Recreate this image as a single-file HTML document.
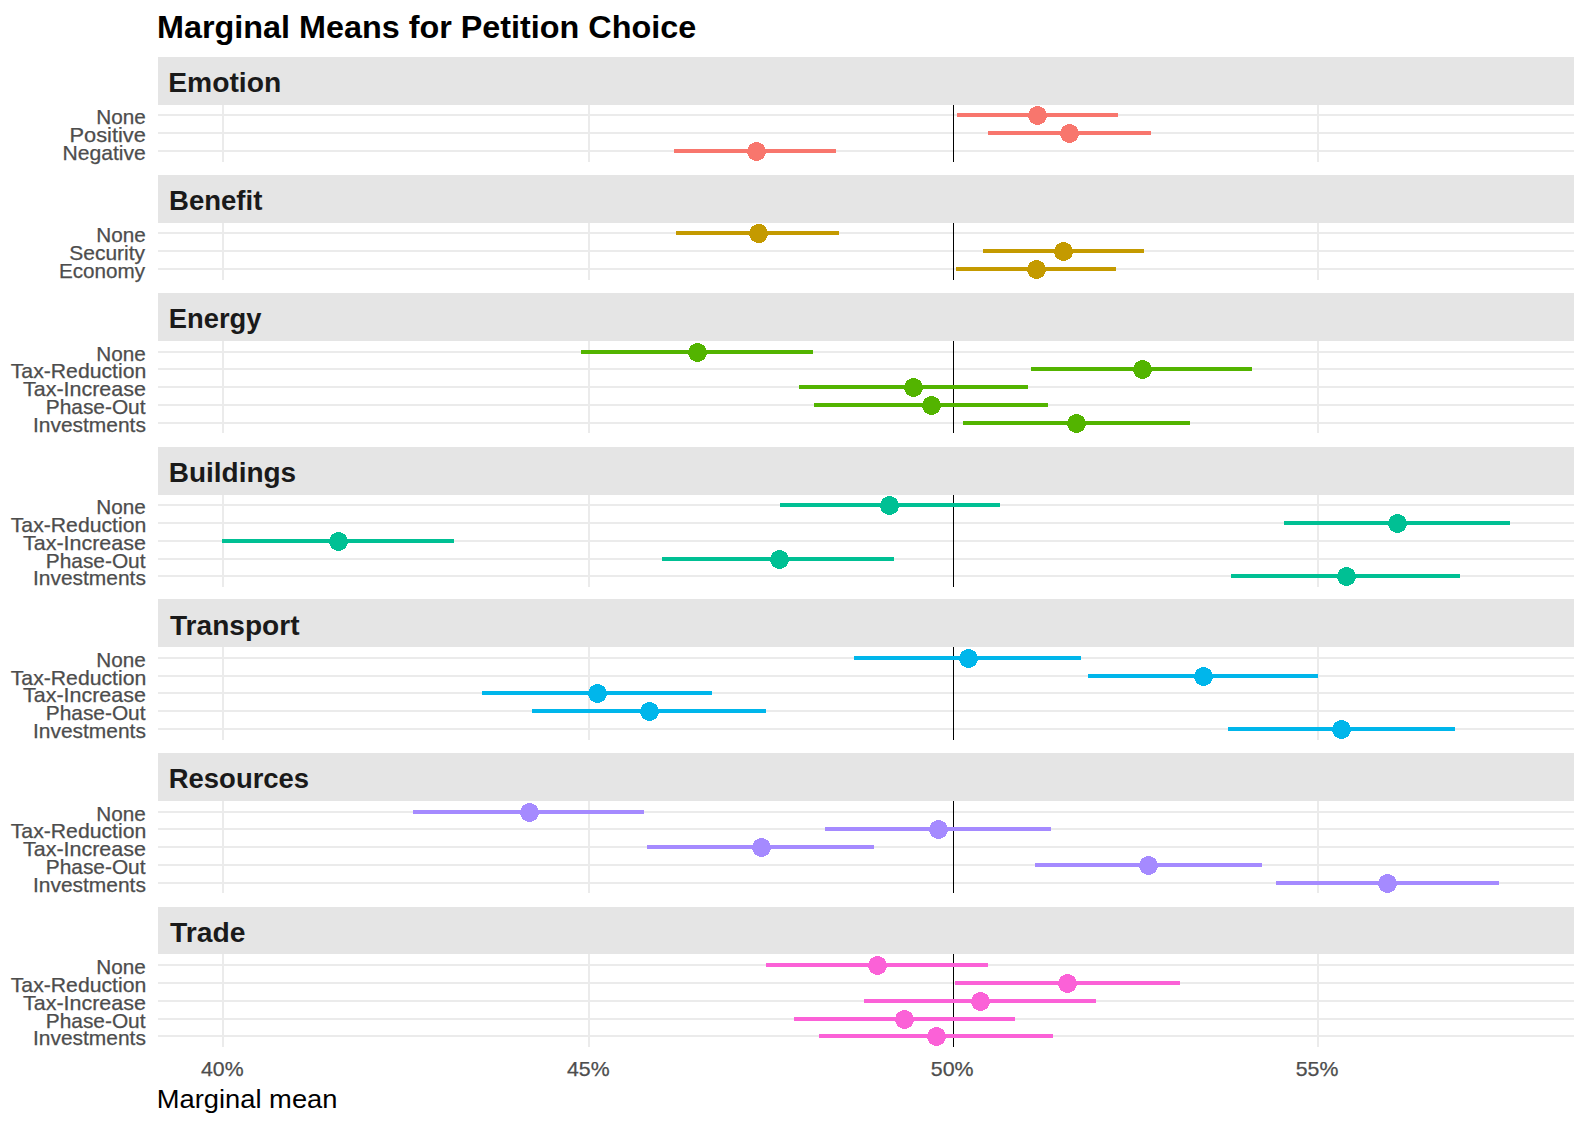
<!DOCTYPE html>
<html lang="en">
<head>
<meta charset="utf-8">
<title>Marginal Means for Petition Choice</title>
<style>
html,body{margin:0;padding:0;background:#fff;}
svg{display:block;}
text{font-family:"Liberation Sans",Arial,Helvetica,sans-serif;}
.t{font-size:32px;font-weight:bold;fill:#000;}
.s{font-size:28px;font-weight:bold;fill:#1a1a1a;}
.y{font-size:20.8px;fill:#4d4d4d;stroke:#4d4d4d;stroke-width:0.25px;}
.x{font-size:20.8px;fill:#4d4d4d;stroke:#4d4d4d;stroke-width:0.25px;}
.xt{font-size:26.2px;fill:#000;}
.g{fill:#ebebeb;}
.st{fill:#e5e5e5;}
.v{fill:#000;}
</style>
</head>
<body>
<svg width="1588" height="1127" viewBox="0 0 1588 1127">
<rect x="0" y="0" width="1588" height="1127" fill="#ffffff"/>
<text class="t" x="157.00" y="38.0" textLength="539.19" lengthAdjust="spacingAndGlyphs">Marginal Means for Petition Choice</text>
<g shape-rendering="crispEdges">
<rect class="st" x="158" y="57" width="1416" height="48"/>
<rect class="g" x="158" y="114" width="1416" height="2"/>
<rect class="g" x="158" y="132" width="1416" height="2"/>
<rect class="g" x="158" y="150" width="1416" height="2"/>
<rect class="g" x="222" y="105" width="2" height="57"/>
<rect class="g" x="588" y="105" width="2" height="57"/>
<rect class="g" x="1317" y="105" width="2" height="57"/>
<rect class="v" x="953" y="105" width="1" height="57"/>
<rect x="957" y="113" width="161" height="4" fill="#F8766D"/><circle cx="1037.5" cy="115.5" r="9.5" fill="#F8766D"/>
<rect x="988" y="131" width="163" height="4" fill="#F8766D"/><circle cx="1069.5" cy="133.5" r="9.5" fill="#F8766D"/>
<rect x="674" y="149" width="162" height="4" fill="#F8766D"/><circle cx="756.5" cy="151.5" r="9.5" fill="#F8766D"/>
</g>
<text class="s" x="168.25" y="92.0" textLength="112.98" lengthAdjust="spacingAndGlyphs">Emotion</text>
<text class="y" x="96.25" y="123.6" textLength="49.52" lengthAdjust="spacingAndGlyphs">None</text>
<text class="y" x="69.50" y="141.6" textLength="76.30" lengthAdjust="spacingAndGlyphs">Positive</text>
<text class="y" x="62.50" y="159.6" textLength="83.38" lengthAdjust="spacingAndGlyphs">Negative</text>
<g shape-rendering="crispEdges">
<rect class="st" x="158" y="175" width="1416" height="48"/>
<rect class="g" x="158" y="232" width="1416" height="2"/>
<rect class="g" x="158" y="250" width="1416" height="2"/>
<rect class="g" x="158" y="268" width="1416" height="2"/>
<rect class="g" x="222" y="223" width="2" height="57"/>
<rect class="g" x="588" y="223" width="2" height="57"/>
<rect class="g" x="1317" y="223" width="2" height="57"/>
<rect class="v" x="953" y="223" width="1" height="57"/>
<rect x="676" y="231" width="163" height="4" fill="#C49A00"/><circle cx="758.5" cy="233.5" r="9.5" fill="#C49A00"/>
<rect x="983" y="249" width="161" height="4" fill="#C49A00"/><circle cx="1063.5" cy="251.5" r="9.5" fill="#C49A00"/>
<rect x="956" y="267" width="160" height="4" fill="#C49A00"/><circle cx="1036.5" cy="269.5" r="9.5" fill="#C49A00"/>
</g>
<text class="s" x="169.00" y="210.0" textLength="93.32" lengthAdjust="spacingAndGlyphs">Benefit</text>
<text class="y" x="96.25" y="241.6" textLength="49.52" lengthAdjust="spacingAndGlyphs">None</text>
<text class="y" x="69.25" y="259.6" textLength="75.78" lengthAdjust="spacingAndGlyphs">Security</text>
<text class="y" x="59.00" y="278.3" textLength="86.09" lengthAdjust="spacingAndGlyphs">Economy</text>
<g shape-rendering="crispEdges">
<rect class="st" x="158" y="293" width="1416" height="48"/>
<rect class="g" x="158" y="351" width="1416" height="2"/>
<rect class="g" x="158" y="368" width="1416" height="2"/>
<rect class="g" x="158" y="386" width="1416" height="2"/>
<rect class="g" x="158" y="404" width="1416" height="2"/>
<rect class="g" x="158" y="422" width="1416" height="2"/>
<rect class="g" x="222" y="341" width="2" height="92"/>
<rect class="g" x="588" y="341" width="2" height="92"/>
<rect class="g" x="1317" y="341" width="2" height="92"/>
<rect class="v" x="953" y="341" width="1" height="92"/>
<rect x="581" y="350" width="232" height="4" fill="#53B400"/><circle cx="697.5" cy="352.5" r="9.5" fill="#53B400"/>
<rect x="1031" y="367" width="221" height="4" fill="#53B400"/><circle cx="1142.5" cy="369.5" r="9.5" fill="#53B400"/>
<rect x="799" y="385" width="229" height="4" fill="#53B400"/><circle cx="913.5" cy="387.5" r="9.5" fill="#53B400"/>
<rect x="814" y="403" width="234" height="4" fill="#53B400"/><circle cx="931.5" cy="405.5" r="9.5" fill="#53B400"/>
<rect x="963" y="421" width="227" height="4" fill="#53B400"/><circle cx="1076.5" cy="423.5" r="9.5" fill="#53B400"/>
</g>
<text class="s" x="168.75" y="328.0" textLength="92.68" lengthAdjust="spacingAndGlyphs">Energy</text>
<text class="y" x="96.25" y="360.6" textLength="49.52" lengthAdjust="spacingAndGlyphs">None</text>
<text class="y" x="10.75" y="377.6" textLength="135.47" lengthAdjust="spacingAndGlyphs">Tax-Reduction</text>
<text class="y" x="23.00" y="395.6" textLength="122.90" lengthAdjust="spacingAndGlyphs">Tax-Increase</text>
<text class="y" x="45.75" y="413.6" textLength="99.78" lengthAdjust="spacingAndGlyphs">Phase-Out</text>
<text class="y" x="33.00" y="431.6" textLength="112.85" lengthAdjust="spacingAndGlyphs">Investments</text>
<g shape-rendering="crispEdges">
<rect class="st" x="158" y="447" width="1416" height="48"/>
<rect class="g" x="158" y="504" width="1416" height="2"/>
<rect class="g" x="158" y="522" width="1416" height="2"/>
<rect class="g" x="158" y="540" width="1416" height="2"/>
<rect class="g" x="158" y="558" width="1416" height="2"/>
<rect class="g" x="158" y="575" width="1416" height="2"/>
<rect class="g" x="222" y="495" width="2" height="92"/>
<rect class="g" x="588" y="495" width="2" height="92"/>
<rect class="g" x="1317" y="495" width="2" height="92"/>
<rect class="v" x="953" y="495" width="1" height="92"/>
<rect x="780" y="503" width="220" height="4" fill="#00C094"/><circle cx="889.5" cy="505.5" r="9.5" fill="#00C094"/>
<rect x="1284" y="521" width="226" height="4" fill="#00C094"/><circle cx="1397.5" cy="523.5" r="9.5" fill="#00C094"/>
<rect x="222" y="539" width="232" height="4" fill="#00C094"/><circle cx="338.5" cy="541.5" r="9.5" fill="#00C094"/>
<rect x="662" y="557" width="232" height="4" fill="#00C094"/><circle cx="779.5" cy="559.5" r="9.5" fill="#00C094"/>
<rect x="1231" y="574" width="229" height="4" fill="#00C094"/><circle cx="1346.5" cy="576.5" r="9.5" fill="#00C094"/>
</g>
<text class="s" x="168.75" y="482.0" textLength="127.39" lengthAdjust="spacingAndGlyphs">Buildings</text>
<text class="y" x="96.25" y="513.6" textLength="49.52" lengthAdjust="spacingAndGlyphs">None</text>
<text class="y" x="10.75" y="531.6" textLength="135.47" lengthAdjust="spacingAndGlyphs">Tax-Reduction</text>
<text class="y" x="23.00" y="549.6" textLength="122.90" lengthAdjust="spacingAndGlyphs">Tax-Increase</text>
<text class="y" x="45.75" y="567.6" textLength="99.78" lengthAdjust="spacingAndGlyphs">Phase-Out</text>
<text class="y" x="33.00" y="584.6" textLength="112.85" lengthAdjust="spacingAndGlyphs">Investments</text>
<g shape-rendering="crispEdges">
<rect class="st" x="158" y="599" width="1416" height="48"/>
<rect class="g" x="158" y="657" width="1416" height="2"/>
<rect class="g" x="158" y="675" width="1416" height="2"/>
<rect class="g" x="158" y="692" width="1416" height="2"/>
<rect class="g" x="158" y="710" width="1416" height="2"/>
<rect class="g" x="158" y="728" width="1416" height="2"/>
<rect class="g" x="222" y="647" width="2" height="93"/>
<rect class="g" x="588" y="647" width="2" height="93"/>
<rect class="g" x="1317" y="647" width="2" height="93"/>
<rect class="v" x="953" y="647" width="1" height="93"/>
<rect x="854" y="656" width="227" height="4" fill="#00B6EB"/><circle cx="968.5" cy="658.5" r="9.5" fill="#00B6EB"/>
<rect x="1088" y="674" width="230" height="4" fill="#00B6EB"/><circle cx="1203.5" cy="676.5" r="9.5" fill="#00B6EB"/>
<rect x="482" y="691" width="230" height="4" fill="#00B6EB"/><circle cx="597.5" cy="693.5" r="9.5" fill="#00B6EB"/>
<rect x="532" y="709" width="234" height="4" fill="#00B6EB"/><circle cx="649.5" cy="711.5" r="9.5" fill="#00B6EB"/>
<rect x="1228" y="727" width="227" height="4" fill="#00B6EB"/><circle cx="1341.5" cy="729.5" r="9.5" fill="#00B6EB"/>
</g>
<text class="s" x="170.00" y="635.0" textLength="129.54" lengthAdjust="spacingAndGlyphs">Transport</text>
<text class="y" x="96.25" y="666.6" textLength="49.52" lengthAdjust="spacingAndGlyphs">None</text>
<text class="y" x="10.75" y="684.6" textLength="135.47" lengthAdjust="spacingAndGlyphs">Tax-Reduction</text>
<text class="y" x="23.00" y="701.6" textLength="122.90" lengthAdjust="spacingAndGlyphs">Tax-Increase</text>
<text class="y" x="45.75" y="719.6" textLength="99.78" lengthAdjust="spacingAndGlyphs">Phase-Out</text>
<text class="y" x="33.00" y="737.6" textLength="112.85" lengthAdjust="spacingAndGlyphs">Investments</text>
<g shape-rendering="crispEdges">
<rect class="st" x="158" y="753" width="1416" height="48"/>
<rect class="g" x="158" y="811" width="1416" height="2"/>
<rect class="g" x="158" y="828" width="1416" height="2"/>
<rect class="g" x="158" y="846" width="1416" height="2"/>
<rect class="g" x="158" y="864" width="1416" height="2"/>
<rect class="g" x="158" y="882" width="1416" height="2"/>
<rect class="g" x="222" y="801" width="2" height="92"/>
<rect class="g" x="588" y="801" width="2" height="92"/>
<rect class="g" x="1317" y="801" width="2" height="92"/>
<rect class="v" x="953" y="801" width="1" height="92"/>
<rect x="413" y="810" width="231" height="4" fill="#A58AFF"/><circle cx="529.5" cy="812.5" r="9.5" fill="#A58AFF"/>
<rect x="825" y="827" width="226" height="4" fill="#A58AFF"/><circle cx="938.5" cy="829.5" r="9.5" fill="#A58AFF"/>
<rect x="647" y="845" width="227" height="4" fill="#A58AFF"/><circle cx="761.5" cy="847.5" r="9.5" fill="#A58AFF"/>
<rect x="1035" y="863" width="227" height="4" fill="#A58AFF"/><circle cx="1148.5" cy="865.5" r="9.5" fill="#A58AFF"/>
<rect x="1276" y="881" width="223" height="4" fill="#A58AFF"/><circle cx="1387.5" cy="883.5" r="9.5" fill="#A58AFF"/>
</g>
<text class="s" x="168.75" y="788.0" textLength="140.39" lengthAdjust="spacingAndGlyphs">Resources</text>
<text class="y" x="96.25" y="820.6" textLength="49.52" lengthAdjust="spacingAndGlyphs">None</text>
<text class="y" x="10.75" y="837.6" textLength="135.47" lengthAdjust="spacingAndGlyphs">Tax-Reduction</text>
<text class="y" x="23.00" y="855.6" textLength="122.90" lengthAdjust="spacingAndGlyphs">Tax-Increase</text>
<text class="y" x="45.75" y="873.6" textLength="99.78" lengthAdjust="spacingAndGlyphs">Phase-Out</text>
<text class="y" x="33.00" y="891.6" textLength="112.85" lengthAdjust="spacingAndGlyphs">Investments</text>
<g shape-rendering="crispEdges">
<rect class="st" x="158" y="907" width="1416" height="47"/>
<rect class="g" x="158" y="964" width="1416" height="2"/>
<rect class="g" x="158" y="982" width="1416" height="2"/>
<rect class="g" x="158" y="1000" width="1416" height="2"/>
<rect class="g" x="158" y="1018" width="1416" height="2"/>
<rect class="g" x="158" y="1035" width="1416" height="2"/>
<rect class="g" x="222" y="954" width="2" height="93"/>
<rect class="g" x="588" y="954" width="2" height="93"/>
<rect class="g" x="1317" y="954" width="2" height="93"/>
<rect class="v" x="953" y="954" width="1" height="93"/>
<rect x="766" y="963" width="222" height="4" fill="#FB61D7"/><circle cx="877.5" cy="965.5" r="9.5" fill="#FB61D7"/>
<rect x="955" y="981" width="225" height="4" fill="#FB61D7"/><circle cx="1067.5" cy="983.5" r="9.5" fill="#FB61D7"/>
<rect x="864" y="999" width="232" height="4" fill="#FB61D7"/><circle cx="980.5" cy="1001.5" r="9.5" fill="#FB61D7"/>
<rect x="794" y="1017" width="221" height="4" fill="#FB61D7"/><circle cx="904.5" cy="1019.5" r="9.5" fill="#FB61D7"/>
<rect x="819" y="1034" width="234" height="4" fill="#FB61D7"/><circle cx="936.5" cy="1036.5" r="9.5" fill="#FB61D7"/>
</g>
<text class="s" x="170.00" y="942.0" textLength="75.37" lengthAdjust="spacingAndGlyphs">Trade</text>
<text class="y" x="96.25" y="973.6" textLength="49.52" lengthAdjust="spacingAndGlyphs">None</text>
<text class="y" x="10.75" y="991.6" textLength="135.47" lengthAdjust="spacingAndGlyphs">Tax-Reduction</text>
<text class="y" x="23.00" y="1009.6" textLength="122.90" lengthAdjust="spacingAndGlyphs">Tax-Increase</text>
<text class="y" x="45.75" y="1027.6" textLength="99.78" lengthAdjust="spacingAndGlyphs">Phase-Out</text>
<text class="y" x="33.00" y="1044.6" textLength="112.85" lengthAdjust="spacingAndGlyphs">Investments</text>
<text class="x" x="201.00" y="1075.9" textLength="42.54" lengthAdjust="spacingAndGlyphs">40%</text>
<text class="x" x="567.00" y="1075.9" textLength="42.61" lengthAdjust="spacingAndGlyphs">45%</text>
<text class="x" x="930.75" y="1075.9" textLength="42.81" lengthAdjust="spacingAndGlyphs">50%</text>
<text class="x" x="1295.75" y="1075.9" textLength="42.65" lengthAdjust="spacingAndGlyphs">55%</text>
<text class="xt" x="156.75" y="1108.4" textLength="180.72" lengthAdjust="spacingAndGlyphs">Marginal mean</text>
</svg>
</body>
</html>
